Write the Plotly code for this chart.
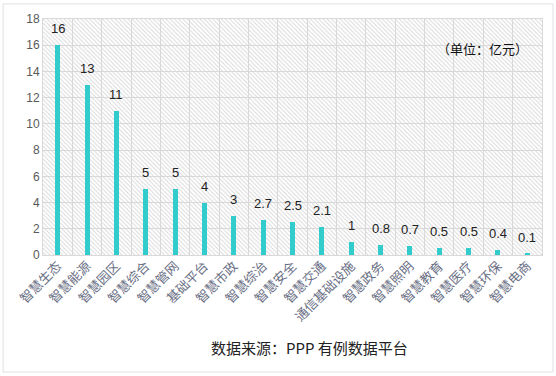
import plotly.graph_objects as go

categories = ["智慧生态", "智慧能源", "智慧园区", "智慧综合", "智慧管网", "基础平台", "智慧市政", "智慧综治",
              "智慧安全", "智慧交通", "通信基础设施", "智慧政务", "智慧照明", "智慧教育", "智慧医疗", "智慧环保", "智慧电商"]
values = [16, 13, 11, 5, 5, 4, 3, 2.7, 2.5, 2.1, 1, 0.8, 0.7, 0.5, 0.5, 0.4, 0.1]
labels = ["16", "13", "11", "5", "5", "4", "3", "2.7", "2.5", "2.1", "1", "0.8", "0.7", "0.5", "0.5", "0.4", "0.1"]
y_ticks = [0, 2, 4, 6, 8, 10, 12, 14, 16, 18]

FONT = "Liberation Sans, Noto Sans CJK SC, sans-serif"

fig = go.Figure()

# hatched background (main axis, drawn first / below)
fig.add_trace(go.Bar(
    x=[0.5], y=[18], width=[1], xaxis="x", yaxis="y",
    marker=dict(color="rgba(0,0,0,0)", line=dict(width=0),
                pattern=dict(shape="\\", fgcolor="#d6d6d6", bgcolor="rgba(0,0,0,0)",
                             size=3, solidity=0.3, fillmode="replace")),
    hoverinfo="skip", showlegend=False,
))

fig.add_trace(go.Bar(
    x=categories, y=values, width=0.17, xaxis="x2", yaxis="y",
    marker=dict(color="#33CCCC", line=dict(width=0)),
    showlegend=False,
))

annotations = [
    dict(x=c, y=v, text=t, xref="x2", yref="y", showarrow=False, yanchor="bottom", yshift=7,
         font=dict(family=FONT, size=13, color="#222222"))
    for c, v, t in zip(categories, values, labels)
]
annotations += [
    dict(text="（单位：亿元）", x=0.976, y=0.873, xref="paper", yref="paper", xanchor="right",
         yanchor="middle", showarrow=False, font=dict(size=13, color="#111111", family="Noto Sans CJK SC")),
    dict(text="数据来源：PPP 有例数据平台", x=0.535, y=-0.39, xref="paper", yref="paper",
         xanchor="center", yanchor="middle", showarrow=False,
         font=dict(size=15, color="#222222", family="Noto Sans CJK SC")),
]

fig.update_layout(
    width=556, height=376,
    margin=dict(l=43, r=14, t=19, b=121),
    paper_bgcolor="white", plot_bgcolor="white",
    font=dict(family=FONT, color="#595959"),
    bargap=0,
    xaxis=dict(range=[0, 1], showgrid=False, showticklabels=False, ticks="", zeroline=False,
               showline=True, linecolor="#d9d9d9", mirror=True),
    xaxis2=dict(type="category", overlaying="x", side="bottom", tickson="boundaries",
                showgrid=True, gridcolor="#d9d9d9", gridwidth=1,
                tickangle=-45, tickfont=dict(size=13, color="#6a6f85"), ticks="",
                showline=False, range=[-0.5, 16.5]),
    yaxis=dict(range=[0, 18], tickvals=y_ticks, showgrid=True, gridcolor="#d9d9d9", gridwidth=1,
               tickfont=dict(size=12, color="#595959"), ticks="", zeroline=False,
               showline=True, linecolor="#d9d9d9", mirror=True),
    annotations=annotations,
    shapes=[dict(type="rect", xref="paper", yref="paper", x0=-0.080, x1=1.022, y0=-0.496, y1=1.064,
                 line=dict(color="#e0e0e0", width=1), layer="below")],
)

fig.write_html("out.html", config={"displayModeBar": False},
               post_script="document.body.style.margin='0';")
